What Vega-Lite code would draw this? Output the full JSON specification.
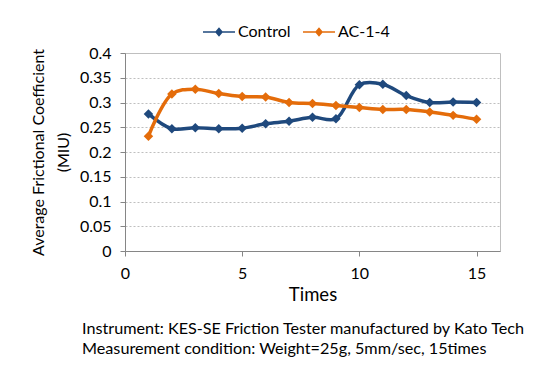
{
  "$schema": "https://vega.github.io/schema/vega-lite/v6.json",
  "width": 375,
  "height": 198,
  "autosize": "none",
  "padding": {"left": 125, "top": 53, "right": 60, "bottom": 125},
  "background": "#ffffff",
  "data": {
    "values": [
      {"t": 1, "series": "Control", "v": 0.277},
      {"t": 2, "series": "Control", "v": 0.247},
      {"t": 3, "series": "Control", "v": 0.249},
      {"t": 4, "series": "Control", "v": 0.247},
      {"t": 5, "series": "Control", "v": 0.248},
      {"t": 6, "series": "Control", "v": 0.257},
      {"t": 7, "series": "Control", "v": 0.262},
      {"t": 8, "series": "Control", "v": 0.270},
      {"t": 9, "series": "Control", "v": 0.267},
      {"t": 10, "series": "Control", "v": 0.336},
      {"t": 11, "series": "Control", "v": 0.337},
      {"t": 12, "series": "Control", "v": 0.314},
      {"t": 13, "series": "Control", "v": 0.300},
      {"t": 14, "series": "Control", "v": 0.301},
      {"t": 15, "series": "Control", "v": 0.300},
      {"t": 1, "series": "AC-1-4", "v": 0.232},
      {"t": 2, "series": "AC-1-4", "v": 0.317},
      {"t": 3, "series": "AC-1-4", "v": 0.327},
      {"t": 4, "series": "AC-1-4", "v": 0.318},
      {"t": 5, "series": "AC-1-4", "v": 0.312},
      {"t": 6, "series": "AC-1-4", "v": 0.311},
      {"t": 7, "series": "AC-1-4", "v": 0.300},
      {"t": 8, "series": "AC-1-4", "v": 0.298},
      {"t": 9, "series": "AC-1-4", "v": 0.294},
      {"t": 10, "series": "AC-1-4", "v": 0.290},
      {"t": 11, "series": "AC-1-4", "v": 0.286},
      {"t": 12, "series": "AC-1-4", "v": 0.286},
      {"t": 13, "series": "AC-1-4", "v": 0.281},
      {"t": 14, "series": "AC-1-4", "v": 0.274},
      {"t": 15, "series": "AC-1-4", "v": 0.266}
    ]
  },
  "title": {
    "text": ["Instrument: KES-SE Friction Tester manufactured by Kato Tech", "Measurement condition: Weight=25g, 5mm/sec, 15times"],
    "orient": "bottom",
    "anchor": "start",
    "frame": "group",
    "font": "Lato",
    "fontSize": 16.2,
    "fontWeight": "normal",
    "color": "#000000",
    "lineHeight": 20,
    "offset": 17,
    "dx": -43
  },
  "encoding": {
    "x": {
      "field": "t",
      "type": "quantitative",
      "scale": {"domain": [0, 16], "nice": false, "zero": false},
      "axis": {
        "values": [0, 5, 10, 15],
        "grid": false,
        "title": "Times",
        "titleFontSize": 18.5,
        "titleFontWeight": "normal",
        "titlePadding": 4,
        "labelPadding": 9,
        "labelFlush": false
      }
    }
  },
  "layer": [
    {
      "mark": {"type": "line", "interpolate": "catmull-rom", "strokeWidth": 3.5},
      "encoding": {
        "y": {
          "field": "v",
          "type": "quantitative",
          "scale": {"domain": [0, 0.4], "nice": false},
          "axis": {
            "values": [0, 0.05, 0.1, 0.15, 0.2, 0.25, 0.3, 0.35, 0.4],
            "format": "~g",
            "grid": true,
            "gridDash": [2, 2],
            "gridColor": "#BFBFBF",
            "title": "Average Frictional Coefficient",
            "titleFontSize": 16,
            "titleFontWeight": "normal",
            "titleBaseline": "alphabetic",
            "titleX": -82,
            "titleY": 99,
            "labelPadding": 9
          }
        },
        "color": {
          "field": "series",
          "type": "nominal",
          "scale": {"domain": ["Control", "AC-1-4"], "range": ["#1F497D", "#E46C0A"]},
          "legend": {
            "orient": "none",
            "legendX": 78,
            "legendY": -37,
            "direction": "horizontal",
            "title": null,
            "symbolType": "M-1,-0.05H1V0.05H-1Z M0,-0.3L0.25,0L0,0.3L-0.25,0Z",
            "symbolSize": 1024,
            "symbolStrokeWidth": 0,
            "symbolOpacity": 1,
            "labelFont": "Lato",
            "labelFontSize": 16,
            "labelColor": "#000000",
            "labelOffset": 3,
            "columnPadding": 12,
            "padding": 0,
            "encode": {"symbols": {"update": {"fill": {"scale": "color", "field": "value"}, "fillOpacity": {"value": 1}, "strokeWidth": {"value": 0}}}}
          }
        }
      }
    },
    {
      "mark": {"type": "point", "shape": "diamond", "filled": true, "size": 90, "opacity": 1},
      "encoding": {
        "y": {
          "field": "v",
          "type": "quantitative",
          "scale": {"domain": [0, 0.4], "nice": false},
          "axis": {
            "orient": "left",
            "labels": false,
            "ticks": false,
            "domain": false,
            "grid": false,
            "title": "(MIU)",
            "titleFontSize": 16,
            "titleFontWeight": "normal",
            "titleBaseline": "alphabetic",
            "titleX": -57,
            "titleY": 99
          }
        },
        "color": {
          "field": "series",
          "type": "nominal",
          "scale": {"domain": ["Control", "AC-1-4"], "range": ["#1F497D", "#E46C0A"]},
          "legend": {
            "orient": "none",
            "legendX": 78,
            "legendY": -37,
            "direction": "horizontal",
            "title": null,
            "symbolType": "M-1,-0.05H1V0.05H-1Z M0,-0.3L0.25,0L0,0.3L-0.25,0Z",
            "symbolSize": 1024,
            "symbolStrokeWidth": 0,
            "symbolOpacity": 1,
            "labelFont": "Lato",
            "labelFontSize": 16,
            "labelColor": "#000000",
            "labelOffset": 3,
            "columnPadding": 12,
            "padding": 0,
            "encode": {"symbols": {"update": {"fill": {"scale": "color", "field": "value"}, "fillOpacity": {"value": 1}, "strokeWidth": {"value": 0}}}}
          }
        }
      }
    }
  ],
  "resolve": {"scale": {"y": "independent"}, "axis": {"y": "independent"}},
  "config": {
    "font": "Lato",
    "view": {"stroke": "#BFBFBF", "strokeWidth": 1},
    "axis": {
      "labelFont": "Lato",
      "labelFontSize": 16,
      "labelColor": "#000000",
      "titleFont": "Lato",
      "titleFontWeight": "normal",
      "titleColor": "#000000",
      "domainColor": "#868686",
      "domainWidth": 1,
      "tickColor": "#868686",
      "tickSize": 5,
      "ticks": true
    }
  }
}
